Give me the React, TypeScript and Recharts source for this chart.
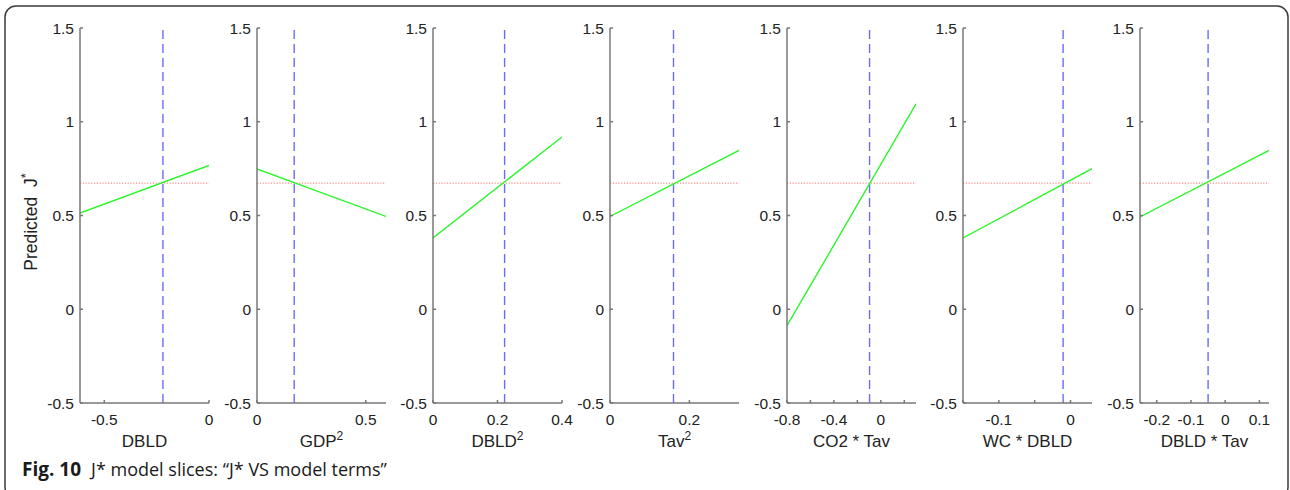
import React from "react";
import { LineChart, Line, XAxis, YAxis, ReferenceLine } from "recharts";

// ---- data ----
const xLabelBase = ["DBLD", "GDP", "DBLD", "Tav", "CO2 * Tav", "WC * DBLD", "DBLD * Tav"];
const xLabelSup = ["", "2", "2", "2", "", "", ""];
const xDomains: [number, number][] = [
  [-0.616, 0],
  [0, 0.593],
  [0, 0.4],
  [0, 0.325],
  [-0.8, 0.3],
  [-0.15, 0.03],
  [-0.249, 0.128],
];
const xTicks: number[][] = [
  [-0.5, 0],
  [0, 0.5],
  [0, 0.2, 0.4],
  [0, 0.2],
  [-0.8, -0.6, -0.4, -0.2, 0, 0.2],
  [-0.15, -0.1, -0.05, 0],
  [-0.2, -0.1, 0, 0.1],
];
const xTickLabels: string[][] = [
  ["-0.5", "0"],
  ["0", "0.5"],
  ["0", "0.2", "0.4"],
  ["0", "0.2"],
  ["-0.8", "", "-0.4", "", "0", ""],
  ["", "-0.1", "", "0"],
  ["-0.2", "-0.1", "0", "0.1"],
];
const predStart = [0.513, 0.748, 0.38, 0.495, -0.088, 0.38, 0.492];
const predEnd = [0.767, 0.495, 0.919, 0.847, 1.096, 0.75, 0.847];
const termValue = [-0.22, 0.171, 0.222, 0.16, -0.096, -0.0103, -0.05];
const predictedAtCenter = 0.673;
const yTicks = [-0.5, 0, 0.5, 1, 1.5];
const yTickLabels = ["-0.5", "0", "0.5", "1", "1.5"];
const yLabel = "Predicted  J";
const captionBold = "Fig. 10";
const captionText = "J* model slices: \u201CJ* VS model terms\u201D";

// ---- style ----
const FONT = "'Liberation Sans', Arial, Helvetica, sans-serif";
const AXIS = "#777777";
const TEXT = "#222222";
const TICK_FS = 15.5;
const LABEL_FS = 17;
const PLOT_W = 129;
const PLOT_H = 375;
const M = { top: 28, right: 20, bottom: 37, left: 30 };
const Y_AXIS_W = 50;
const X_AXIS_H = 50;
const CHART_W = M.left + Y_AXIS_W + PLOT_W + M.right;
const CHART_H = M.top + PLOT_H + X_AXIS_H + M.bottom;

function XLabel(props: any) {
  const { viewBox, base, sup } = props;
  const cx = viewBox.x + viewBox.width / 2;
  const cy = viewBox.y + 43.6;
  return (
    <text x={cx} y={cy} textAnchor="middle" fontFamily={FONT} fontSize={LABEL_FS} fill={TEXT}>
      {base}
      {sup ? (
        <tspan fontSize={12} dy={-6.5}>
          {sup}
        </tspan>
      ) : null}
    </text>
  );
}

function YLabel(props: any) {
  const x = 31;
  const y = 222;
  return (
    <text
      x={x}
      y={y}
      transform={`rotate(-90, ${x}, ${y})`}
      textAnchor="middle"
      dominantBaseline="central"
      fontFamily={FONT}
      fontSize={17.5}
      fill={TEXT}
      style={{ whiteSpace: "pre" }}
    >
      {yLabel}
      <tspan fontSize={13} dy={-6}>*</tspan>
    </text>
  );
}

function XTick(props: any) {
  const { x, payload, labels, ticks } = props;
  const k = ticks.findIndex((t: number) => Math.abs(t - payload.value) < 1e-9);
  const s = k >= 0 ? labels[k] : "";
  if (!s) return null;
  return (
    <text x={x} y={424.5} textAnchor="middle" fontFamily={FONT} fontSize={TICK_FS} fill={TEXT}>
      {s}
    </text>
  );
}

function YTick(props: any) {
  const { y, payload } = props;
  const k = yTicks.findIndex((t) => Math.abs(t - payload.value) < 1e-9);
  return (
    <text x={74} y={y + 5.5} textAnchor="end" fontFamily={FONT} fontSize={TICK_FS} fill={TEXT}>
      {k >= 0 ? yTickLabels[k] : ""}
    </text>
  );
}

function Panel({ i }: { i: number }) {
  const [x0, x1] = xDomains[i];
  const data = [
    { x: x0, y: predStart[i] },
    { x: x1, y: predEnd[i] },
  ];
  const plotLeft = 80 + i * 176.67;
  const labels = xTickLabels[i];
  const ticks = xTicks[i];
  return (
    <div style={{ position: "absolute", left: plotLeft - M.left - Y_AXIS_W, top: 0 }}>
      <LineChart width={CHART_W} height={CHART_H} data={data} margin={M}>
        <XAxis
          dataKey="x"
          type="number"
          domain={[x0, x1]}
          ticks={ticks}
          allowDataOverflow
          height={X_AXIS_H}
          stroke={AXIS}
          strokeWidth={1.5}
          tickSize={-3}
          tick={(p: any) => <XTick {...p} labels={labels} ticks={ticks} />}
          interval={0}
          label={{ content: (p: any) => <XLabel {...p} base={xLabelBase[i]} sup={xLabelSup[i]} /> }}
        />
        <XAxis
          xAxisId="top"
          orientation="top"
          dataKey="x"
          type="number"
          domain={[x0, x1]}
          ticks={ticks}
          allowDataOverflow
          height={0}
          stroke={AXIS}
          strokeWidth={1.5}
          tickSize={-3}
          tick={false}
          interval={0}
        />
        <YAxis
          type="number"
          domain={[-0.5, 1.5]}
          ticks={yTicks}
          allowDataOverflow
          width={Y_AXIS_W}
          stroke={AXIS}
          strokeWidth={1.5}
          tickSize={-3}
          tick={(p: any) => <YTick {...p} />}
          interval={0}
          label={i === 0 ? { content: (p: any) => <YLabel {...p} /> } : undefined}
        />
        <YAxis
          yAxisId="right"
          orientation="right"
          type="number"
          domain={[-0.5, 1.5]}
          ticks={yTicks}
          allowDataOverflow
          width={0}
          stroke={AXIS}
          strokeWidth={1.5}
          tickSize={-3}
          tick={false}
          interval={0}
        />
        <ReferenceLine y={predictedAtCenter} stroke="#ff8a8a" strokeWidth={1.2} strokeDasharray="1.2 1.6" />
        <ReferenceLine x={termValue[i]} stroke="#6b6bff" strokeWidth={1.4} strokeDasharray="9 5" />
        <Line
          type="linear"
          dataKey="y"
          stroke="#2cf52c"
          strokeWidth={1.4}
          dot={false}
          isAnimationActive={false}
        />
      </LineChart>
    </div>
  );
}

export default function App() {
  return (
    <div
      style={{
        position: "absolute",
        left: 0,
        top: 0,
        width: 1290,
        height: 490,
        overflow: "hidden",
        background: "#ffffff",
      }}
    >
      {xLabelBase.map((_, i) => (
        <Panel key={i} i={i} />
      ))}
      <svg
        width={1290}
        height={490}
        style={{ position: "absolute", left: 0, top: 0, pointerEvents: "none" }}
      >
        <rect x={5} y={6} width={1283} height={492} rx={11} ry={11} fill="none" stroke="#3a3a3a" strokeWidth={1.5} />
        <text x={22} y={476} fontFamily="'Open Sans', 'Noto Sans', sans-serif" fontSize={18} fill="#1a1a1a">
          <tspan fontWeight={700} fontSize={19}>{captionBold}</tspan>
          <tspan dx={10} fontWeight={400}>{captionText}</tspan>
        </text>
      </svg>
    </div>
  );
}
